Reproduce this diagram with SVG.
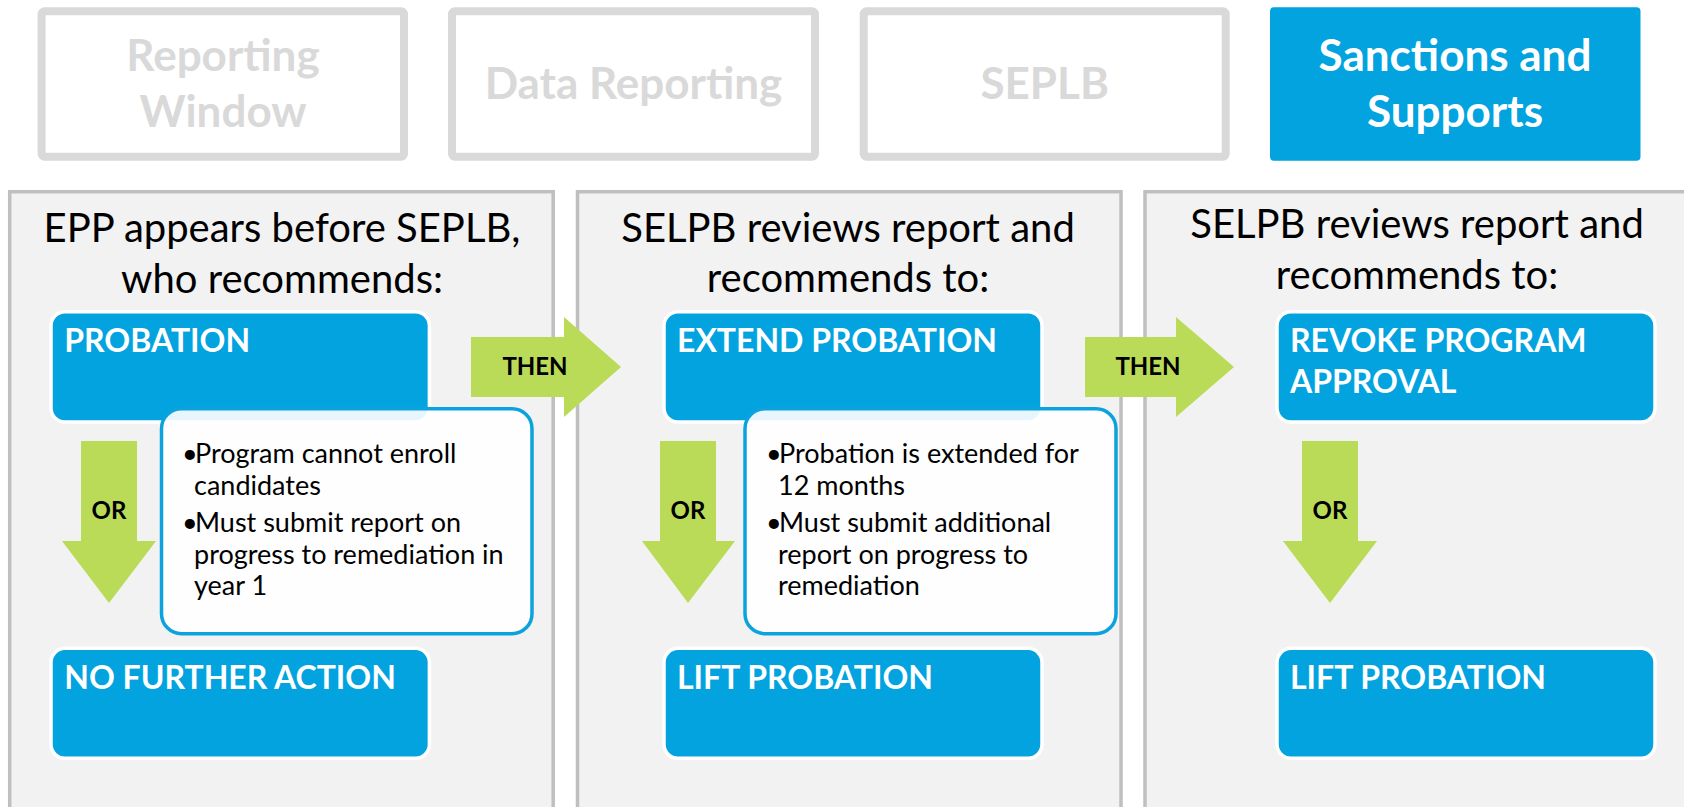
<svg xmlns="http://www.w3.org/2000/svg" width="1684" height="807" viewBox="0 0 1684 807">
<style>
.tab{fill:#ffffff;stroke:#d9d9d9;stroke-width:8}
.tabon{fill:#02a3df;stroke:none}
.tabtxt{font-family:Lato,"Liberation Sans",sans-serif;font-weight:bold;font-size:44px;fill:#d9d9d9;text-anchor:middle}
.tabtxton{font-family:Lato,"Liberation Sans",sans-serif;font-weight:bold;font-size:44px;fill:#ffffff;text-anchor:middle}
.panel{fill:#f2f2f2;stroke:#bfbfbf;stroke-width:3.5}
.head{font-family:Lato,"Liberation Sans",sans-serif;font-size:40px;fill:#000000;text-anchor:middle}
.blue{fill:#02a3df;stroke:#ffffff;stroke-width:3.5}
.btxt{font-family:Lato,"Liberation Sans",sans-serif;font-weight:bold;font-size:32px;fill:#ffffff}
.detail{fill:#ffffff;fill-opacity:0.9;stroke:#0ba2dd;stroke-width:3.5}
.dtxt{font-family:Lato,"Liberation Sans",sans-serif;font-size:27px;fill:#000000}
.arrow{fill:#badb57;stroke:none}
.atxt{font-family:Lato,"Liberation Sans",sans-serif;font-weight:bold;font-size:24px;fill:#000000;text-anchor:middle}
</style>

<g id="tab-reporting-window">
<rect class="tab" x="41.6" y="11.3" width="362.4" height="145.4" rx="3"/>
<text class="tabtxt" x="223" y="71">Reporting</text>
<text class="tabtxt" x="223" y="127">Window</text>
</g>
<g id="tab-data-reporting">
<rect class="tab" x="452" y="11.3" width="363" height="145.4" rx="3"/>
<text class="tabtxt" x="633.5" y="99">Data Reporting</text>
</g>
<g id="tab-seplb">
<rect class="tab" x="863.7" y="11.3" width="362" height="145.4" rx="3"/>
<text class="tabtxt" x="1044.7" y="99">SEPLB</text>
</g>
<g id="tab-sanctions">
<rect class="tabon" x="1270" y="7.3" width="370.5" height="153.4" rx="4"/>
<text class="tabtxton" x="1455" y="71">Sanctions and</text>
<text class="tabtxton" x="1455" y="127">Supports</text>
</g>

<g id="panel-1">
<rect class="panel" x="9.7" y="191.7" width="543.5" height="620"/>
<text class="head" x="282" y="242">EPP appears before SEPLB,</text>
<text class="head" x="282" y="293">who recommends:</text>
</g>
<g id="panel-2">
<rect class="panel" x="577.5" y="191.7" width="543.5" height="620"/>
<text class="head" x="848" y="241.5">SELPB reviews report and</text>
<text class="head" x="848" y="292">recommends to:</text>
</g>
<g id="panel-3">
<rect class="panel" x="1145" y="191.7" width="545" height="620"/>
<text class="head" x="1417" y="238">SELPB reviews report and</text>
<text class="head" x="1417" y="288.5">recommends to:</text>
</g>

<g id="connectors">
<polygon class="arrow" points="471,337 564,337 564,317 621,367 564,417 564,397 471,397"/>
<text class="atxt" x="535" y="375">THEN</text>
<polygon class="arrow" points="1085,337 1176,337 1176,317 1234,367 1176,417 1176,397 1085,397"/>
<text class="atxt" x="1148" y="375">THEN</text>
<polygon class="arrow" points="81,441 137,441 137,541 156,541 109,603 62,541 81,541"/>
<text class="atxt" x="109" y="519">OR</text>
<polygon class="arrow" points="660,441 716,441 716,541 735,541 688,603 642,541 660,541"/>
<text class="atxt" x="688" y="519">OR</text>
<polygon class="arrow" points="1302,441 1358,441 1358,541 1377,541 1330,603 1283,541 1302,541"/>
<text class="atxt" x="1330" y="519">OR</text>
</g>

<g id="box-probation">
<rect class="blue" x="51" y="311.7" width="378.4" height="110.3" rx="14"/>
<text class="btxt" x="64.3" y="352">PROBATION</text>
</g>
<g id="box-no-further-action">
<rect class="blue" x="51" y="648.3" width="378.4" height="110" rx="14"/>
<text class="btxt" x="64.3" y="689">NO FURTHER ACTION</text>
</g>
<g id="box-extend-probation">
<rect class="blue" x="664" y="311.7" width="378" height="110.3" rx="14"/>
<text class="btxt" x="677" y="352">EXTEND PROBATION</text>
</g>
<g id="box-lift-probation-2">
<rect class="blue" x="664" y="648.3" width="378" height="110" rx="14"/>
<text class="btxt" x="677" y="689">LIFT PROBATION</text>
</g>
<g id="box-revoke">
<rect class="blue" x="1277" y="311.7" width="378" height="110.3" rx="14"/>
<text class="btxt" x="1290" y="352">REVOKE PROGRAM</text>
<text class="btxt" x="1290" y="392.7">APPROVAL</text>
</g>
<g id="box-lift-probation-3">
<rect class="blue" x="1277" y="648.3" width="378" height="110" rx="14"/>
<text class="btxt" x="1290" y="689">LIFT PROBATION</text>
</g>

<g id="detail-1">
<rect class="detail" x="161.5" y="408.7" width="370.5" height="225" rx="20"/>
<text class="dtxt" x="182" y="463">•</text>
<text class="dtxt" x="195" y="463">Program cannot enroll</text>
<text class="dtxt" x="194" y="495">candidates</text>
<text class="dtxt" x="182" y="532">•</text>
<text class="dtxt" x="195" y="532">Must submit report on</text>
<text class="dtxt" x="194" y="564">progress to remediation in</text>
<text class="dtxt" x="194" y="595">year 1</text>
</g>
<g id="detail-2">
<rect class="detail" x="745" y="408.7" width="371" height="225" rx="20"/>
<text class="dtxt" x="766" y="463">•</text>
<text class="dtxt" x="779" y="463">Probation is extended for</text>
<text class="dtxt" x="778" y="495">12 months</text>
<text class="dtxt" x="766" y="532">•</text>
<text class="dtxt" x="779" y="532">Must submit additional</text>
<text class="dtxt" x="778" y="564">report on progress to</text>
<text class="dtxt" x="778" y="595">remediation</text>
</g>
</svg>
